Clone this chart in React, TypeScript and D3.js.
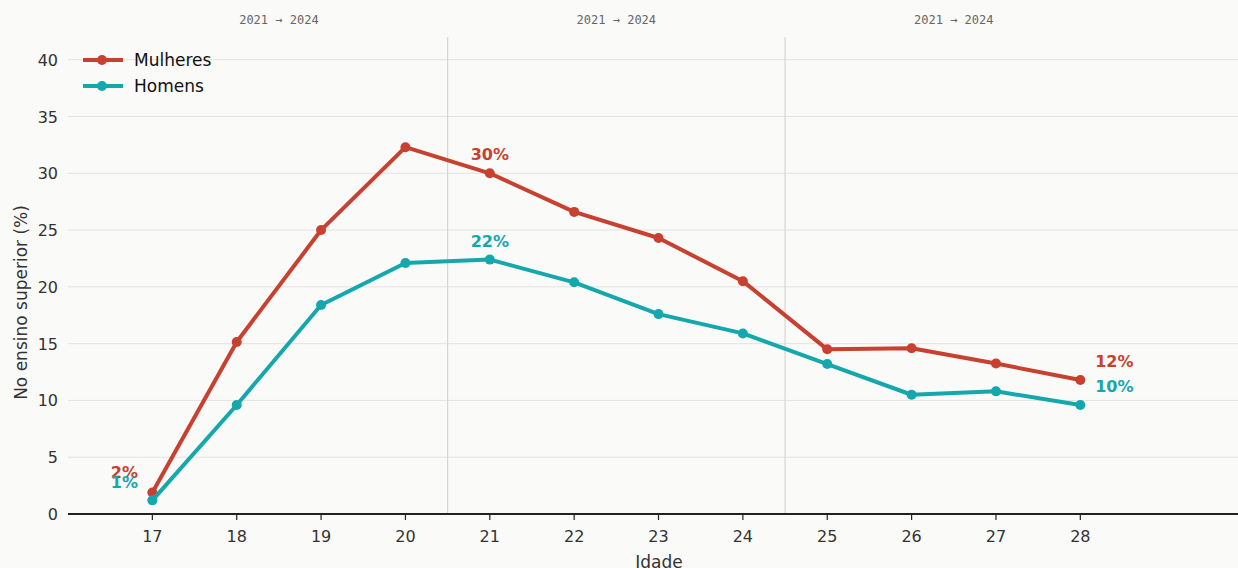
import React from 'react';
import * as d3 from 'd3';

const ages = [17, 18, 19, 20, 21, 22, 23, 24, 25, 26, 27, 28];
const mulheres = [1.9, 15.15, 25.0, 32.3, 30.0, 26.6, 24.3, 20.5, 14.5, 14.6, 13.25, 11.8];
const homens = [1.2, 9.6, 18.4, 22.1, 22.4, 20.4, 17.6, 15.9, 13.2, 10.5, 10.8, 9.6];
const yTicks = [0, 5, 10, 15, 20, 25, 30, 35, 40];
const separators = [20.5, 24.5];
const periodLabels = [
  { at: 18.5, text: '2021 → 2024' },
  { at: 22.5, text: '2021 → 2024' },
  { at: 26.5, text: '2021 → 2024' },
];
// labels shown next to points: [series, age, text, dx, dy]
const pointLabels: [string, number, string, number, number][] = [
  ['m', 17, '2%', -28, -20],
  ['h', 17, '1%', -28, -18],
  ['m', 21, '30%', 0, -19],
  ['h', 21, '22%', 0, -19],
  ['m', 28, '12%', 34, -19],
  ['h', 28, '10%', 34, -19],
];

const RED = '#c8402f';
const TEAL = '#14a8ad';

export default function App() {
  const width = 1238;
  const height = 568;
  const left = 68;
  const bottom = 514;
  const top = 37;

  const x = d3.scaleLinear().domain([16, 30]).range([left, left + 84.36 * 14]);
  const y = d3.scaleLinear().domain([0, 42]).range([bottom, top]);

  const line = d3.line<number>()
    .x((_, i) => x(ages[i]))
    .y(d => y(d));

  const series = [
    { key: 'm', name: 'Mulheres', values: mulheres, color: RED },
    { key: 'h', name: 'Homens', values: homens, color: TEAL },
  ];

  return (
    <svg
      width={width}
      height={height}
      style={{ position: 'fixed', left: 0, top: 0, background: '#fafaf8' }}
      fontFamily="DejaVu Sans, sans-serif"
    >
      <rect x={0} y={0} width={width} height={height} fill="#fafaf8" />

      {/* grid */}
      {yTicks.map(t => (
        <g key={t}>
          {t > 0 && (
            <line x1={left} x2={width} y1={y(t)} y2={y(t)} stroke="#e2e2e0" strokeWidth={1} />
          )}
          <text x={left - 10} y={y(t) + 6} textAnchor="end" fontSize={16} fill="#333">{t}</text>
        </g>
      ))}

      {/* period separators */}
      {separators.map(s => (
        <line key={s} x1={x(s)} x2={x(s)} y1={top} y2={bottom} stroke="#d6d6d4" strokeWidth={1.2} />
      ))}
      {periodLabels.map((p, i) => (
        <text key={i} x={x(p.at)} y={24} textAnchor="middle" fontSize={12}
          fontFamily="DejaVu Sans Mono, monospace" fill="#666">{p.text}</text>
      ))}

      {/* x axis */}
      <line x1={left} x2={width} y1={bottom} y2={bottom} stroke="#222" strokeWidth={1.8} />
      {ages.map(a => (
        <g key={a}>
          <line x1={x(a)} x2={x(a)} y1={bottom} y2={bottom + 6} stroke="#222" strokeWidth={1.2} />
          <text x={x(a)} y={bottom + 28} textAnchor="middle" fontSize={16} fill="#333">{a}</text>
        </g>
      ))}
      <text x={659} y={568} textAnchor="middle" fontSize={17} fill="#333">Idade</text>
      <text
        transform={`translate(27, ${(bottom + top) / 2 + 27}) rotate(-90)`}
        textAnchor="middle" fontSize={17} fill="#333"
      >No ensino superior (%)</text>

      {/* lines */}
      {series.map(s => (
        <g key={s.key}>
          <path d={line(s.values) || ''} fill="none" stroke={s.color} strokeWidth={4} strokeLinejoin="round" />
          {s.values.map((v, i) => (
            <circle key={i} cx={x(ages[i])} cy={y(v)} r={5} fill={s.color} />
          ))}
        </g>
      ))}

      {/* point labels */}
      {pointLabels.map(([k, age, text, dx, dy], i) => {
        const s = series.find(d => d.key === k)!;
        const v = s.values[ages.indexOf(age)];
        return (
          <text key={i} x={x(age) + dx} y={y(v) + dy + 6} textAnchor="middle"
            fontSize={16} fontWeight="bold" fill={s.color}>{text}</text>
        );
      })}

      {/* legend */}
      {series.map((s, i) => (
        <g key={s.key} transform={`translate(83, ${60 + i * 26})`}>
          <line x1={0} x2={40} y1={0} y2={0} stroke={s.color} strokeWidth={4} />
          <circle cx={19} cy={0} r={5} fill={s.color} />
          <text x={51} y={6} fontSize={17} fill="#111">{s.name}</text>
        </g>
      ))}
    </svg>
  );
}
